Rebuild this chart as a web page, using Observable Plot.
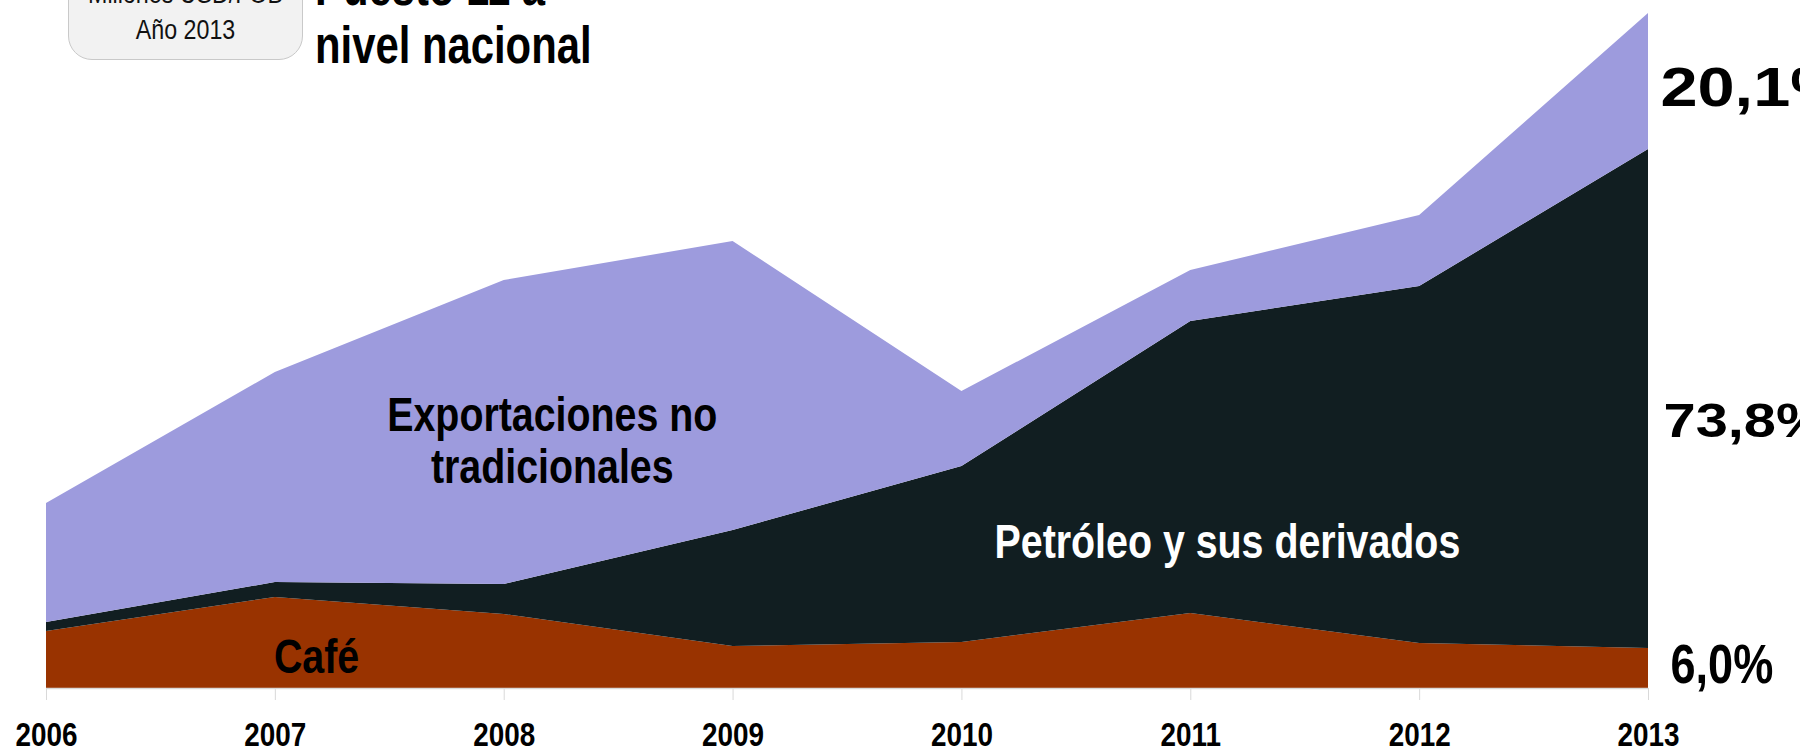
<!DOCTYPE html>
<html>
<head>
<meta charset="utf-8">
<script src="https://cdn.jsdelivr.net/npm/d3@7"></script>
<script src="https://cdn.jsdelivr.net/npm/@observablehq/plot@0.6"></script>
<style>
  html, body { margin: 0; padding: 0; background: #ffffff; }
  #wrap { position: relative; width: 1800px; height: 752px; overflow: hidden; }
  #chart { position: absolute; left: 0; top: 0; }
  #box { position: absolute; left: 68px; top: -60px; width: 235px; height: 120px; box-sizing: border-box;
         background: #f2f2f2; border: 1px solid #c9c9c9; border-radius: 24px; }
  #boxtext { position: absolute; left: 68px; top: -24px; width: 235px; text-align: center;
             font-family: "Liberation Sans", Arial, sans-serif; font-size: 27px; line-height: 36px; color: #111;
             transform: scaleX(0.86); transform-origin: center; }
  #rank { position: absolute; left: 315px; top: -41px; font-family: "Liberation Sans", Arial, sans-serif;
          font-weight: bold; font-size: 51px; line-height: 58px; color: #000; white-space: nowrap;
          transform: scaleX(0.82); transform-origin: left center; }
</style>
</head>
<body>
<div id="wrap">
  <div id="chart"></div>
  <div id="box"></div>
  <div id="boxtext">Millones USD/FOB<br>Año 2013</div>
  <div id="rank">Puesto 11 a<br>nivel nacional</div>
</div>
<script>
// ---- data (millones USD) ----
const years = [2006, 2007, 2008, 2009, 2010, 2011, 2012, 2013];
const cafe = [114, 182, 148, 84, 92, 150, 90, 80];
const petroleo = [18, 30, 60, 232, 352, 584, 714, 998];
const noTradicionales = [238, 420, 608, 578, 150, 102, 142, 272];
const seriesNames = ["Café", "Petróleo y sus derivados", "Exportaciones no tradicionales"];
const seriesColors = ["#993300", "#111e21", "#9d9bdd"];
const shareLabels = ["6,0%", "73,8%", "20,1%"];

const seriesValues = [cafe, petroleo, noTradicionales];
const rows = [];
seriesNames.forEach((s, i) => years.forEach((yr, j) => rows.push({year: yr, serie: s, value: seriesValues[i][j]})));

// share labels positioned at the middle of each band in the last year
const last = years.length - 1;
let acc = 0;
const shareRows = seriesNames.map((s, i) => {
  const v = seriesValues[i][last];
  const mid = acc + v / 2;
  acc += v;
  return {serie: s, year: years[last], mid, label: shareLabels[i]};
});

const sans = "'Liberation Sans', Arial, sans-serif";

const chart = Plot.plot({
  width: 1800,
  height: 752,
  marginLeft: 46,
  marginRight: 152,
  marginTop: 13,
  marginBottom: 64,
  style: {background: "transparent", overflow: "visible"},
  x: {domain: [years[0], years[last]]},
  y: {domain: [0, 1350], axis: null},
  color: {domain: seriesNames, range: seriesColors},
  marks: [
    Plot.areaY(rows, {x: "year", y: "value", fill: "serie", z: "serie", order: seriesNames}),
    Plot.ruleY([0], {stroke: "#d9d9d9", strokeWidth: 1.5}),
    Plot.axisX({
      ticks: years, tickFormat: d => String(d), tickSize: 12, tickPadding: 21,
      stroke: "#d9d9d9", fill: "#000", fontSize: 34, fontWeight: "bold", fontFamily: sans, label: null
    }),
    Plot.text(["Exportaciones no\ntradicionales"], {
      x: () => 2008.21, y: () => 412, text: d => d, lineAnchor: "bottom", lineHeight: 1.083,
      fontSize: 48, fontWeight: "bold", fontFamily: sans, fill: "#000"
    }),
    Plot.text(["Petróleo y sus derivados"], {
      x: () => 2011.16, y: () => 262, text: d => d, lineAnchor: "bottom",
      fontSize: 48, fontWeight: "bold", fontFamily: sans, fill: "#ffffff"
    }),
    Plot.text(["Café"], {
      x: () => 2007.18, y: () => 32, text: d => d, lineAnchor: "bottom",
      fontSize: 48, fontWeight: "bold", fontFamily: sans, fill: "#000"
    }),
    Plot.text(shareRows.slice(0, 1), {
      x: "year", y: "mid", text: "label", textAnchor: "start", dx: 22, dy: -3,
      fontSize: 55, fontWeight: "bold", fontFamily: sans, fill: "#000"
    }),
    Plot.text(shareRows.slice(1, 2), {
      x: "year", y: "mid", text: "label", textAnchor: "start", dx: 15, dy: 22,
      fontSize: 49, fontWeight: "bold", fontFamily: sans, fill: "#000"
    }),
    Plot.text(shareRows.slice(2, 3), {
      x: "year", y: "mid", text: "label", textAnchor: "start", dx: 12, dy: 7,
      fontSize: 56, fontWeight: "bold", fontFamily: sans, fill: "#000"
    })
  ]
});
document.getElementById("chart").appendChild(chart);

// horizontal scaling to mimic the reference's condensed / widened bold faces:
// append a scale about the text's own anchor to its transform attribute
const scaleFor = new Map([...years.map(y => [String(y), 0.82]),
  ["Exportaciones no tradicionales", 0.82], ["Exportaciones notradicionales", 0.82],
  ["Petróleo y sus derivados", 0.82], ["Café", 0.82],
  [shareLabels[0], 0.82], [shareLabels[1], 1.18], [shareLabels[2], 1.19]]);
const leftAnchored = new Set(shareLabels);
d3.select(chart).selectAll("text").each(function () {
  const t = this.textContent;
  if (!scaleFor.has(t)) return;
  const k = scaleFor.get(t);
  const b = this.getBBox();
  const cx = leftAnchored.has(t) ? b.x : b.x + b.width / 2;
  const prev = this.getAttribute("transform") || "";
  this.setAttribute("transform", `${prev} translate(${cx},0) scale(${k},1) translate(${-cx},0)`.trim());
});
</script>
</body>
</html>
